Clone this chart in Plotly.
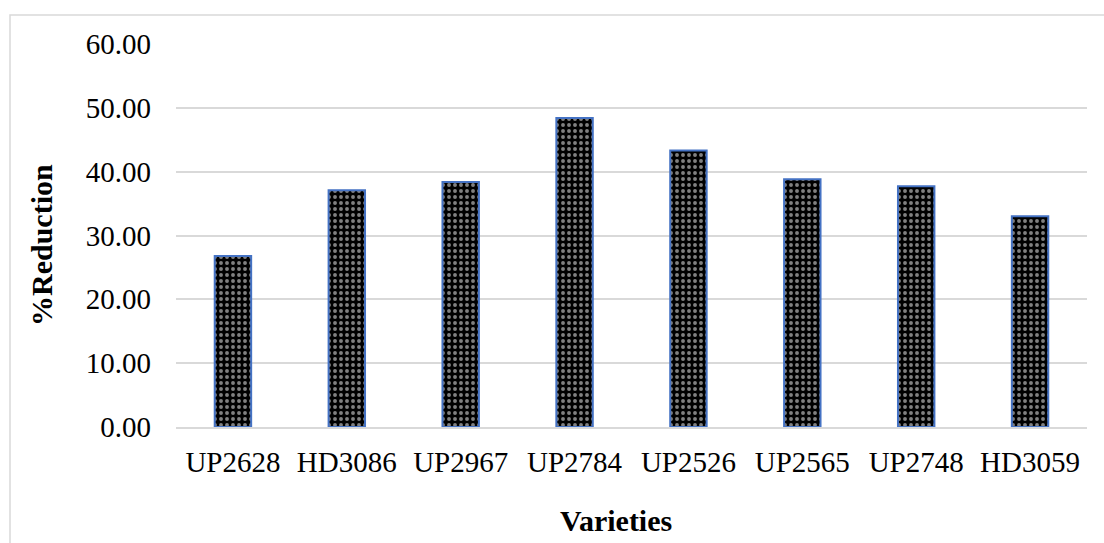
import plotly.graph_objects as go

# Percentage reduction by wheat variety
varieties = ["UP2628", "HD3086", "UP2967", "UP2784", "UP2526", "UP2565", "UP2748", "HD3059"]
reduction = [26.8, 37.1, 38.4, 48.4, 43.3, 38.8, 37.7, 33.0]
y_ticks = [0, 10, 20, 30, 40, 50, 60]

W, H = 1104, 543
L, R, T, B = 176, 17, 44, 116
pw, ph = W - L - R, H - T - B

def px_to_paper(x, y):
    return (x - L) / pw, (H - B - y) / ph

serif = "Liberation Serif, Times New Roman, serif"

fig = go.Figure(
    go.Bar(
        x=varieties,
        y=reduction,
        width=0.32,
        marker=dict(
            color="black",
            line=dict(color="#4472C4", width=2),
            pattern=dict(shape=".", bgcolor="black", fgcolor="white",
                         size=6, solidity=0.33, fillmode="overlay"),
        ),
        hovertemplate="%{x}: %{y:.2f}<extra></extra>",
    )
)

x0, y0 = px_to_paper(10, 15)
x1, y1 = px_to_paper(1115, 560)
lx, ly = px_to_paper(41, 245)
vx, vy = px_to_paper(616, 520)

fig.update_layout(
    width=W, height=H,
    margin=dict(l=L, r=R, t=T, b=B),
    paper_bgcolor="white", plot_bgcolor="white",
    showlegend=False,
    font=dict(family=serif, size=29, color="black"),
    xaxis=dict(
        showgrid=False, showline=True, linecolor="#d9d9d9", linewidth=1.5,
        ticks="", ticklabelstandoff=8,
        tickfont=dict(family=serif, size=29, color="black"),
    ),
    yaxis=dict(
        range=[0, 60], tickvals=y_ticks, tickformat=".2f",
        showgrid=True, gridcolor="#d9d9d9", gridwidth=1.5,
        zeroline=False, showline=False, ticks="",
        ticklabelstandoff=24,
        tickfont=dict(family=serif, size=29, color="black"),
    ),
    shapes=[dict(type="rect", xref="paper", yref="paper",
                 x0=x0, y0=y1, x1=x1, y1=y0,
                 line=dict(color="#d9d9d9", width=1.5), layer="below")],
    annotations=[
        dict(text="<b>%Reduction</b>", xref="paper", yref="paper",
             x=lx, y=ly, textangle=-90, showarrow=False,
             xanchor="center", yanchor="middle",
             font=dict(family=serif, size=30, color="black")),
        dict(text="<b>Varieties</b>", xref="paper", yref="paper",
             x=vx, y=vy, showarrow=False,
             xanchor="center", yanchor="middle",
             font=dict(family=serif, size=30, color="black")),
    ],
)

fig.write_html("out.html")
